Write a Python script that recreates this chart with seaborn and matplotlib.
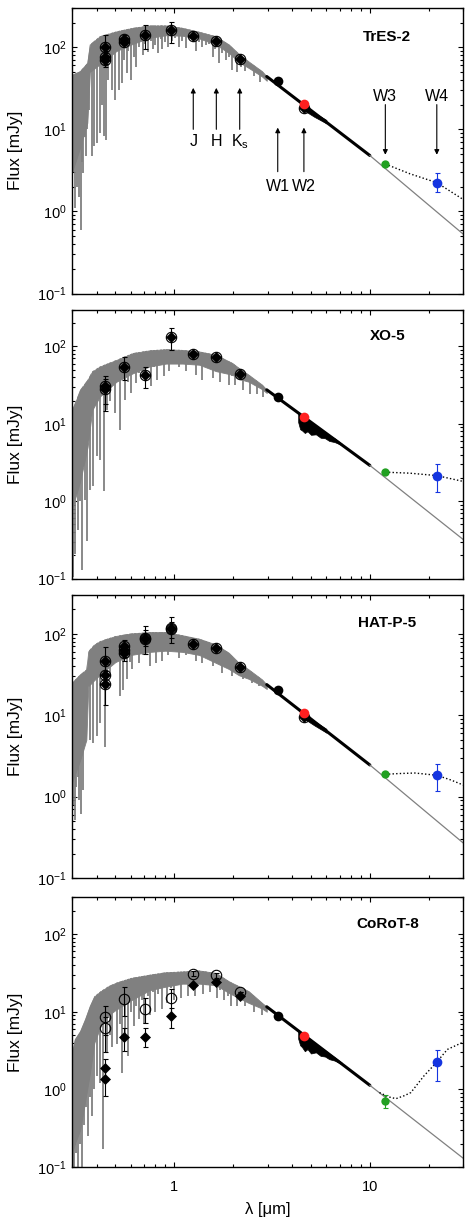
import numpy as np
import matplotlib
matplotlib.use('Agg')
import matplotlib.pyplot as plt
import matplotlib.ticker as mticker
import seaborn as sns

sns.set_theme(style='ticks', rc={'axes.edgecolor': 'black', 'text.color': 'black',
                                 'xtick.color': 'black', 'ytick.color': 'black',
                                 'axes.labelcolor': 'black'})
plt.rcParams['font.family'] = ['Liberation Sans', 'DejaVu Sans']
plt.rcParams['mathtext.fontset'] = 'custom'
plt.rcParams['mathtext.rm'] = 'Liberation Sans'
plt.rcParams['mathtext.it'] = 'Liberation Sans:italic'
plt.rcParams['mathtext.bf'] = 'Liberation Sans:bold'

# ---------------- data ----------------
# WISE bands, shared by every panel
wise_wl = [3.38, 4.6, 12.0, 22.0]
wise_colors = ['black', '#ff2020', '#22a022', '#1535e0']

# --- TrES-2 ---
tres2_env_wl = [0.30, 0.33, 0.359, 0.37, 0.416, 0.506, 0.614, 0.746, 0.908, 1.10, 1.34, 1.63, 1.90, 2.16, 2.40, 2.81, 2.97]
tres2_env_hi = [46, 51, 64, 108, 136, 156, 172, 184, 184, 172, 154, 136, 108, 81, 67, 51, 44]
tres2_env_lo = [3, 6, 12, 50, 62, 90, 110, 130, 140, 138, 128, 108, 85, 65, 56, 44, 39]
tres2_spike_wl = [0.301, 0.305, 0.311, 0.315, 0.319, 0.325, 0.333, 0.337, 0.342, 0.348, 0.353, 0.357, 0.368,
                  0.378, 0.39, 0.402, 0.416, 0.426, 0.436, 0.446, 0.46, 0.48, 0.50, 0.52, 0.54, 0.55, 0.57,
                  0.58, 0.60, 0.62, 0.64, 0.66, 0.69, 0.71, 0.73, 0.76, 0.78, 0.80, 0.83, 0.85, 0.87, 0.90,
                  0.93, 0.97, 1.01, 1.06, 1.10, 1.15, 1.20, 1.29, 1.33, 1.39, 1.45, 1.50, 1.57, 1.62, 1.69,
                  1.75, 1.83, 1.90, 1.98, 2.10, 2.20, 2.30, 2.55, 2.75]
tres2_spike_lo = [0.5, 3, 1.1, 5, 2.0, 1.5, 0.6, 4, 2.9, 8, 4.7, 10, 17,
                  4.7, 6.2, 6.8, 9.0, 20, 8.2, 7.5, 40, 30, 23, 30, 37, 70, 48,
                  90, 40, 75, 58, 100, 80, 110, 88, 120, 94, 105, 85, 125, 94, 115,
                  100, 120, 130, 100, 120, 98, 125, 90, 115, 100, 105, 110, 75, 95, 64,
                  85, 70, 75, 53, 50, 58, 52, 45, 38]
tres2_ir_wl = [2.97, 10.0]
tres2_ir_f = [44, 4.8]
tres2_blob_wl = [4.4, 4.7, 5.2, 6.0]
tres2_blob_hi = [21, 19, 16, 13]
tres2_blob_lo = [18.5, 16.5, 14.2, 11.8]
tres2_rj_wl = [10.0, 30.0]
tres2_rj_f = [4.8, 0.53]
tres2_dot_wl = [12.0, 16.0, 22.0, 30.0]
tres2_dot_f = [3.78, 2.88, 2.24, 1.4]
tres2_wl = [0.44, 0.44, 0.44, 0.55, 0.55, 0.71, 0.965, 1.25, 1.64, 2.16, 4.6]
tres2_flux = [100, 76, 69, 126, 115, 139, 161, 136, 120, 71, 18]
tres2_lo = [85, 62, 58, 110, 105, 94, 113, 136, 120, 71, 18]
tres2_hi = [139, 90, 80, 140, 125, 184, 202, 136, 120, 71, 18]
tres2_wise = [38.5, 20.6, 3.78, 2.24]
tres2_wise_lo = [38.5, 20.6, 3.78, 1.71]
tres2_wise_hi = [38.5, 20.6, 3.78, 2.9]

# --- XO-5 ---
xo5_env_wl = [0.30, 0.33, 0.36, 0.38, 0.416, 0.506, 0.614, 0.746, 0.908, 1.10, 1.34, 1.63, 1.98, 2.14, 2.40, 2.81, 2.97]
xo5_env_hi = [15, 27.5, 37, 47.5, 55, 67, 82, 89, 92, 90, 86, 78, 61, 52.5, 43, 32, 27.5]
xo5_env_lo = [0.8, 1.8, 5, 15, 22.5, 35, 45, 55, 60, 60, 58, 48, 43, 38, 35, 28, 25]
xo5_spike_wl = [0.303, 0.31, 0.32, 0.328, 0.336, 0.348, 0.357, 0.37, 0.386, 0.40, 0.416, 0.436, 0.45, 0.47,
                0.50, 0.53, 0.55, 0.56, 0.58, 0.60, 0.62, 0.64, 0.66, 0.69, 0.72, 0.76, 0.79, 0.82, 0.85,
                0.89, 0.92, 0.94, 1.00, 1.06, 1.10, 1.15, 1.22, 1.29, 1.34, 1.39, 1.45, 1.50, 1.57, 1.65,
                1.72, 1.80, 1.90, 1.98, 2.05, 2.15, 2.25, 2.45, 2.65, 2.85]
xo5_spike_lo = [0.106, 0.21, 0.43, 1.0, 0.13, 1.04, 0.31, 1.4, 1.55, 3.8, 3.4, 1.34, 15, 20,
                13.7, 8.4, 45, 20.5, 35, 25, 50, 33.5, 45, 41, 60, 30.5, 55, 37, 65,
                41, 60, 47.5, 62, 55, 65, 47.5, 60, 43, 62, 37, 55, 58, 39, 50,
                35, 48, 32, 42, 32, 38, 27, 24, 24, 22]
xo5_ir_wl = [2.97, 10.0]
xo5_ir_f = [27.5, 2.9]
xo5_blob_wl = [4.3, 4.4, 4.5, 4.65, 4.8, 5.0, 5.3, 5.6, 5.9, 6.2, 6.6, 7.2]
xo5_blob_hi = [13.5, 13.0, 12.5, 11.8, 11.0, 10.2, 9.2, 8.4, 7.8, 7.1, 6.5, 5.5]
xo5_blob_lo = [10.5, 8.5, 8.2, 7.6, 8.0, 7.2, 7.3, 6.6, 6.5, 6.0, 5.8, 5.3]
xo5_rj_wl = [10.0, 30.0]
xo5_rj_f = [2.9, 0.32]
xo5_dot_wl = [12.0, 16.0, 22.0, 30.0]
xo5_dot_f = [2.37, 2.3, 2.14, 1.8]
xo5_wl = [0.44, 0.44, 0.55, 0.71, 0.965, 1.25, 1.64, 2.16]
xo5_flux = [31, 28, 55, 43, 132, 80, 72, 44]
xo5_lo = [18, 14.5, 37, 29, 90, 80, 72, 44]
xo5_hi = [41.7, 38, 73, 54, 175, 80, 72, 44]
xo5_wise = [22.5, 12.2, 2.37, 2.14]
xo5_wise_lo = [22.5, 12.2, 2.37, 1.3]
xo5_wise_hi = [22.5, 12.2, 2.37, 3.0]

# --- HAT-P-5 ---
hatp5_env_wl = [0.30, 0.33, 0.355, 0.363, 0.39, 0.42, 0.5, 0.6, 0.75, 0.9, 1.1, 1.34, 1.63, 1.9, 2.14, 2.4, 2.81, 2.97]
hatp5_env_hi = [25, 31.6, 36.5, 61, 74, 82, 94, 101, 105, 105, 96, 87, 74, 58.5, 44, 36.5, 27.5, 23.8]
hatp5_env_lo = [1.5, 2.8, 5.0, 22.7, 27, 32, 45, 55, 60, 62, 60, 55, 44, 37, 31, 28, 23, 21]
hatp5_spike_wl = [0.30, 0.305, 0.31, 0.315, 0.32, 0.327, 0.333, 0.342, 0.353, 0.37, 0.385, 0.40, 0.416, 0.44,
                  0.455, 0.47, 0.50, 0.525, 0.545, 0.56, 0.575, 0.59, 0.61, 0.63, 0.66, 0.69, 0.72, 0.75,
                  0.78, 0.81, 0.84, 0.87, 0.90, 0.925, 1.00, 1.06, 1.10, 1.15, 1.22, 1.29, 1.34, 1.39,
                  1.45, 1.50, 1.57, 1.65, 1.75, 1.85, 1.98, 2.10, 2.25, 2.5, 2.7]
hatp5_spike_lo = [0.26, 0.8, 0.51, 1.3, 1.76, 0.9, 0.62, 1.2, 6.6, 5.0, 4.5, 5.5, 8.0, 4.1,
                  30, 30, 45, 17, 20.6, 50, 27.5, 45, 36.5, 60, 44, 55, 65, 40,
                  62, 44, 70, 46, 66, 55, 70, 50, 68, 55, 65, 46, 62, 44,
                  58, 60, 40, 50, 33, 45, 30, 34, 28, 25, 23]
hatp5_ir_wl = [2.97, 10.0]
hatp5_ir_f = [23.8, 2.45]
hatp5_blob_wl = [4.4, 4.7, 5.2, 6.0]
hatp5_blob_hi = [11.5, 10.2, 8.5, 6.8]
hatp5_blob_lo = [9.8, 8.8, 7.5, 6.1]
hatp5_rj_wl = [10.0, 30.0]
hatp5_rj_f = [2.45, 0.27]
hatp5_dot_wl = [12.0, 14.0, 17.0, 22.0, 26.0, 30.0]
hatp5_dot_f = [1.88, 1.92, 1.95, 1.83, 1.6, 1.39]
hatp5_wl = [0.44, 0.44, 0.44, 0.55, 0.55, 0.55, 0.71, 0.71, 0.965, 0.965, 1.25, 1.64, 2.16, 4.6]
hatp5_flux = [47, 31, 24, 70.6, 62.5, 58.6, 89.7, 85.5, 119, 114, 75.6, 67.5, 39.3, 9.5]
hatp5_lo = [35, 22, 13.5, 60, 52, 46, 70, 56, 90, 78, 75.6, 67.5, 39.3, 9.5]
hatp5_hi = [68, 42, 33, 85, 75, 70, 124, 110, 160, 140, 75.6, 67.5, 39.3, 9.5]
hatp5_wise = [20.2, 10.6, 1.88, 1.83]
hatp5_wise_lo = [20.2, 10.6, 1.88, 1.17]
hatp5_wise_hi = [20.2, 10.6, 1.88, 2.5]

# --- CoRoT-8 ---
corot8_env_wl = [0.30, 0.31, 0.33, 0.35, 0.37, 0.39, 0.42, 0.46, 0.5, 0.6, 0.75, 0.9, 1.1, 1.34, 1.63, 1.9, 2.14, 2.4, 2.81, 2.97]
corot8_env_hi = [2.8, 4.4, 5.6, 8.0, 11.8, 15.8, 18.4, 21.3, 23.5, 27.2, 30, 32.2, 33, 34, 31.6, 24.7, 21.3, 18.4, 13, 11.6]
corot8_env_lo = [0.15, 0.2, 0.3, 0.7, 1.6, 4.0, 6.5, 9, 10.5, 14, 19, 21, 23, 23, 22, 17.5, 15, 13, 11, 10]
corot8_spike_wl = [0.302, 0.308, 0.315, 0.322, 0.33, 0.337, 0.345, 0.352, 0.36, 0.37, 0.38, 0.39, 0.40, 0.415,
                   0.433, 0.45, 0.47, 0.48, 0.51, 0.53, 0.538, 0.56, 0.58, 0.60, 0.62, 0.64, 0.66, 0.68,
                   0.70, 0.73, 0.75, 0.78, 0.80, 0.83, 0.86, 0.89, 0.92, 0.96, 1.00, 1.04, 1.08, 1.12,
                   1.17, 1.22, 1.28, 1.34, 1.40, 1.46, 1.52, 1.58, 1.65, 1.72, 1.80, 1.88, 1.95, 2.10,
                   2.20, 2.30, 2.55, 2.80]
corot8_spike_lo = [0.08, 0.09, 0.15, 0.08, 0.2, 0.09, 0.35, 0.6, 0.25, 0.8, 0.45, 1.0, 1.5, 1.2,
                   0.17, 3.0, 5, 3.5, 3.8, 7, 1.64, 4.5, 2.7, 10, 6.5, 12, 8, 14,
                   7, 16, 9, 18, 10, 17, 11, 21, 13, 20, 14, 22, 15, 23,
                   16, 24, 16, 23, 17, 22, 18, 22, 15, 19, 14, 16, 12, 12,
                   14, 12, 10, 9]
corot8_ir_wl = [2.97, 10.0]
corot8_ir_f = [11.6, 1.13]
corot8_blob_wl = [4.3, 4.4, 4.5, 4.65, 4.8, 5.0, 5.3, 5.6, 5.9, 6.2, 6.6, 7.2]
corot8_blob_hi = [5.8, 5.55, 5.3, 5.0, 4.7, 4.35, 3.9, 3.5, 3.2, 2.9, 2.6, 2.2]
corot8_blob_lo = [4.5, 3.7, 3.5, 3.1, 3.3, 2.9, 3.0, 2.7, 2.65, 2.45, 2.35, 2.1]
corot8_rj_wl = [10.0, 30.0]
corot8_rj_f = [1.13, 0.13]
corot8_dot_wl = [11.2, 12.5, 13.6, 15.0, 16.2, 18.9, 22.0, 24.9, 30.0]
corot8_dot_f = [0.91, 0.8, 0.76, 0.83, 0.91, 1.49, 2.25, 3.27, 4.06]
corot8_wl = [0.44, 0.44, 0.55, 0.71, 0.965, 1.25, 1.64, 2.16]
corot8_open = [8.5, 6.2, 14.6, 10.9, 14.9, 30.7, 29.4, 17.8]
corot8_open_lo = [5.0, 3.0, 8.8, 7.2, 9.2, 28.5, 27.5, 17.8]
corot8_open_hi = [11.8, 8.5, 20.9, 15.1, 19.6, 33, 31.5, 17.8]
corot8_dered = [1.9, 1.38, 4.75, 4.7, 8.75, 22.1, 23.9, 16.1]
corot8_dered_lo = [1.3, 0.83, 3.1, 3.5, 6.2, 22.1, 23.9, 16.1]
corot8_dered_hi = [2.45, 1.9, 6.2, 6.2, 11.2, 22.1, 23.9, 16.1]
corot8_wise = [8.9, 4.85, 0.71, 2.25]
corot8_wise_lo = [8.9, 4.85, 0.57, 1.27]
corot8_wise_hi = [8.9, 4.85, 0.84, 3.2]

# arrows marking the photometric bands in the top panel
band_names = ['J', 'H', 'K$_\\mathrm{s}$', 'W1', 'W2', 'W3', 'W4']
band_wl = [1.25, 1.64, 2.16, 3.38, 4.6, 12.0, 22.0]
band_tail = [10, 10, 10, 3.05, 3.05, 20, 20]
band_head = [32, 32, 32, 10.5, 10.5, 4.9, 4.9]
band_text = [7.1, 7.1, 7.1, 2.0, 2.0, 25.3, 25.3]

panels = [
    dict(name='TrES-2', env=(tres2_env_wl, tres2_env_lo, tres2_env_hi), spikes=(tres2_spike_wl, tres2_spike_lo),
         ir=(tres2_ir_wl, tres2_ir_f), blob=(tres2_blob_wl, tres2_blob_lo, tres2_blob_hi),
         rj=(tres2_rj_wl, tres2_rj_f), dot=(tres2_dot_wl, tres2_dot_f),
         opt=[(tres2_wl, tres2_flux, tres2_lo, tres2_hi, 'both')],
         wise=(tres2_wise, tres2_wise_lo, tres2_wise_hi)),
    dict(name='XO-5', env=(xo5_env_wl, xo5_env_lo, xo5_env_hi), spikes=(xo5_spike_wl, xo5_spike_lo),
         ir=(xo5_ir_wl, xo5_ir_f), blob=(xo5_blob_wl, xo5_blob_lo, xo5_blob_hi),
         rj=(xo5_rj_wl, xo5_rj_f), dot=(xo5_dot_wl, xo5_dot_f),
         opt=[(xo5_wl, xo5_flux, xo5_lo, xo5_hi, 'both')],
         wise=(xo5_wise, xo5_wise_lo, xo5_wise_hi)),
    dict(name='HAT-P-5', env=(hatp5_env_wl, hatp5_env_lo, hatp5_env_hi), spikes=(hatp5_spike_wl, hatp5_spike_lo),
         ir=(hatp5_ir_wl, hatp5_ir_f), blob=(hatp5_blob_wl, hatp5_blob_lo, hatp5_blob_hi),
         rj=(hatp5_rj_wl, hatp5_rj_f), dot=(hatp5_dot_wl, hatp5_dot_f),
         opt=[(hatp5_wl, hatp5_flux, hatp5_lo, hatp5_hi, 'both')],
         wise=(hatp5_wise, hatp5_wise_lo, hatp5_wise_hi)),
    dict(name='CoRoT-8', env=(corot8_env_wl, corot8_env_lo, corot8_env_hi), spikes=(corot8_spike_wl, corot8_spike_lo),
         ir=(corot8_ir_wl, corot8_ir_f), blob=(corot8_blob_wl, corot8_blob_lo, corot8_blob_hi),
         rj=(corot8_rj_wl, corot8_rj_f), dot=(corot8_dot_wl, corot8_dot_f),
         opt=[(corot8_wl, corot8_open, corot8_open_lo, corot8_open_hi, 'open'),
              (corot8_wl, corot8_dered, corot8_dered_lo, corot8_dered_hi, 'diamond')],
         wise=(corot8_wise, corot8_wise_lo, corot8_wise_hi)),
]

GRAY = '#808080'

fig = plt.figure(figsize=(4.65, 12.2), dpi=100)
boxes = [(0.155, 0.7594, 0.841, 0.234), (0.155, 0.5258, 0.841, 0.2205),
         (0.155, 0.2803, 0.841, 0.232), (0.155, 0.0434, 0.841, 0.2213)]


def errbars(ax, wl, f, lo, hi, color):
    ax.errorbar(wl, f, yerr=[np.subtract(f, lo), np.subtract(hi, f)], fmt='none',
                ecolor=color, elinewidth=0.8, capsize=1.8, capthick=0.8, zorder=4)


for i, (p, box) in enumerate(zip(panels, boxes)):
    ax = fig.add_axes(box)
    ax.set_xscale('log')
    ax.set_yscale('log')

    # model spectrum: dense band + absorption lines clipped under the envelope
    ewl, elo, ehi = p['env']
    ax.fill_between(ewl, elo, ehi, color=GRAY, lw=0.6, zorder=1)
    clip = ax.fill_between(ewl, 1e-3, ehi, facecolor='none', lw=0)
    swl, slo = p['spikes']
    lines = ax.vlines(swl, slo, 1e3, color=GRAY, lw=1.3, zorder=1)
    lines.set_clip_path(clip.get_paths()[0], clip.get_transform())

    # IR part of the model, Rayleigh-Jeans tail and the fitted excess
    bwl, blo, bhi = p['blob']
    ax.fill_between(bwl, blo, bhi, color='black', lw=0.5, zorder=2)
    sns.lineplot(x=p['ir'][0], y=p['ir'][1], color='black', lw=2.2, ax=ax, zorder=2)
    sns.lineplot(x=p['rj'][0], y=p['rj'][1], color=GRAY, lw=0.9, ax=ax, zorder=2)
    sns.lineplot(x=p['dot'][0], y=p['dot'][1], color='black', lw=1.0, ls=(0, (1, 1.6)), ax=ax, zorder=3)

    # optical / 2MASS photometry
    for wl, f, lo, hi, kind in p['opt']:
        errbars(ax, wl, f, lo, hi, 'black')
        if kind in ('both', 'open'):
            ax.plot(wl, f, ls='none', marker='o', mfc='none', mec='black', ms=7.5, mew=0.8, zorder=5)
        if kind in ('both', 'diamond'):
            ax.plot(wl, f, ls='none', marker='D', mfc='black', mec='black', ms=5.4, mew=0.5, zorder=5)

    # WISE photometry
    wf, wlo, whi = p['wise']
    for k in range(4):
        errbars(ax, [wise_wl[k]], [wf[k]], [wlo[k]], [whi[k]], wise_colors[k])
        ax.plot(wise_wl[k], wf[k], ls='none', marker='o', color=wise_colors[k],
                ms=7 if k != 2 else 6, mew=0, zorder=6)

    ax.text(0.806, 0.90, p['name'], transform=ax.transAxes, ha='center', va='center',
            fontsize=11, fontweight='bold')

    ax.set_xlim(0.3, 30)
    ax.set_ylim(0.1, 300)
    ax.set_xticks([1, 10])
    ax.xaxis.set_major_formatter(mticker.FixedFormatter(['1', '10']))
    ax.xaxis.set_minor_locator(mticker.LogLocator(base=10, subs=np.arange(2, 10)))
    ax.xaxis.set_minor_formatter(mticker.NullFormatter())
    ax.set_yticks([0.1, 1, 10, 100])
    ax.yaxis.set_major_formatter(mticker.LogFormatterSciNotation())
    ax.yaxis.set_minor_locator(mticker.LogLocator(base=10, subs=np.arange(2, 10)))
    ax.yaxis.set_minor_formatter(mticker.NullFormatter())
    ax.tick_params(which='both', direction='in', top=True, right=True, labelsize=10.5, width=0.8)
    ax.tick_params(which='major', length=3.5)
    ax.tick_params(which='minor', length=2)
    ax.tick_params(axis='y', pad=4)
    ax.tick_params(axis='x', pad=9)
    for s in ax.spines.values():
        s.set_linewidth(1.0)
    ax.set_ylabel('Flux [mJy]', fontsize=12.5)
    ax.yaxis.set_label_coords(-0.125, 0.5)
    if i < 3:
        ax.tick_params(labelbottom=False)
        ax.set_xlabel('')
    else:
        ax.set_xlabel('λ [μm]', fontsize=12)
        ax.xaxis.set_label_coords(0.5, -0.13)

    if i == 0:
        for name, x, t, h, ty in zip(band_names, band_wl, band_tail, band_head, band_text):
            ax.annotate('', xy=(x, h), xytext=(x, t),
                        arrowprops=dict(arrowstyle='-|>', color='black', lw=0.8,
                                        mutation_scale=7, shrinkA=0, shrinkB=0))
            ax.text(x, ty, name, ha='center', va='center', fontsize=11.5)

fig.savefig('out.png', dpi=100)
